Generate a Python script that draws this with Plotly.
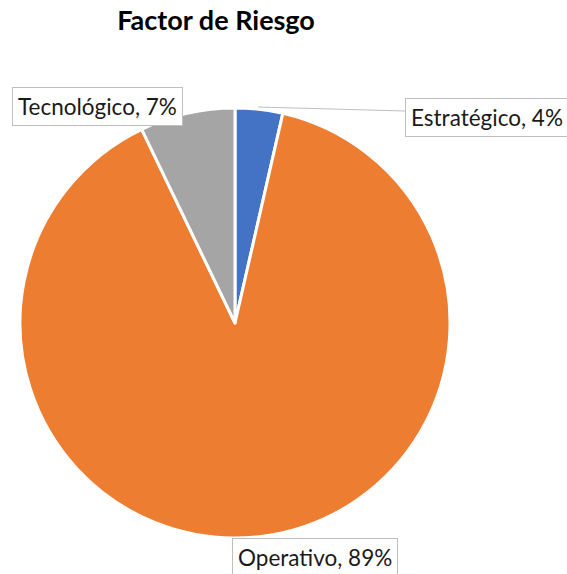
import plotly.graph_objects as go

categories = ["Estratégico", "Operativo", "Tecnológico"]
values = [2, 50, 4]
colors = ["#4472C4", "#ED7D31", "#A5A5A5"]

W, H = 567, 574
total = sum(values)
pct = [round(v / total * 100) for v in values]

fig = go.Figure(go.Pie(
    labels=categories, values=values, sort=False, direction="clockwise",
    rotation=0, marker=dict(colors=colors, line=dict(color="white", width=3)),
    textinfo="none", hoverinfo="label+percent", showlegend=False,
    domain=dict(x=[20 / W, 450 / W], y=[(H - 538) / H, (H - 108) / H]),
))

font = dict(family="Lato, Carlito, sans-serif", size=22.5, color="#1a1a1a")
label_pos = {
    "Tecnológico": (12, 106, "left"),
    "Estratégico": (405, 118, "left"),
    "Operativo": (232, 557, "left"),
}
for c, p in zip(categories, pct):
    x, y, anc = label_pos[c]
    fig.add_annotation(
        text=f"{c}, {p}%", x=x / W, y=(H - y) / H, xref="paper", yref="paper",
        xanchor=anc, yanchor="middle", showarrow=False, font=font,
        bgcolor="white", bordercolor="#BFBFBF", borderwidth=1, borderpad=5,
    )

fig.add_shape(type="line", xref="paper", yref="paper",
              x0=258 / W, y0=(H - 107) / H, x1=405 / W, y1=(H - 111) / H,
              line=dict(color="#BFBFBF", width=1))

fig.update_layout(
    width=W, height=H, margin=dict(l=0, r=0, t=0, b=0),
    paper_bgcolor="white", plot_bgcolor="white",
    title=dict(text="<b>Factor de Riesgo</b>", x=216 / W, xanchor="center",
               y=(H - 21) / H, yanchor="middle",
               font=dict(family="Lato, Carlito, sans-serif", size=27, color="#000000")),
)

fig.write_html("out.html", config={"displayModeBar": False},
               post_script="document.body.style.margin='0';document.body.style.overflow='hidden';")
